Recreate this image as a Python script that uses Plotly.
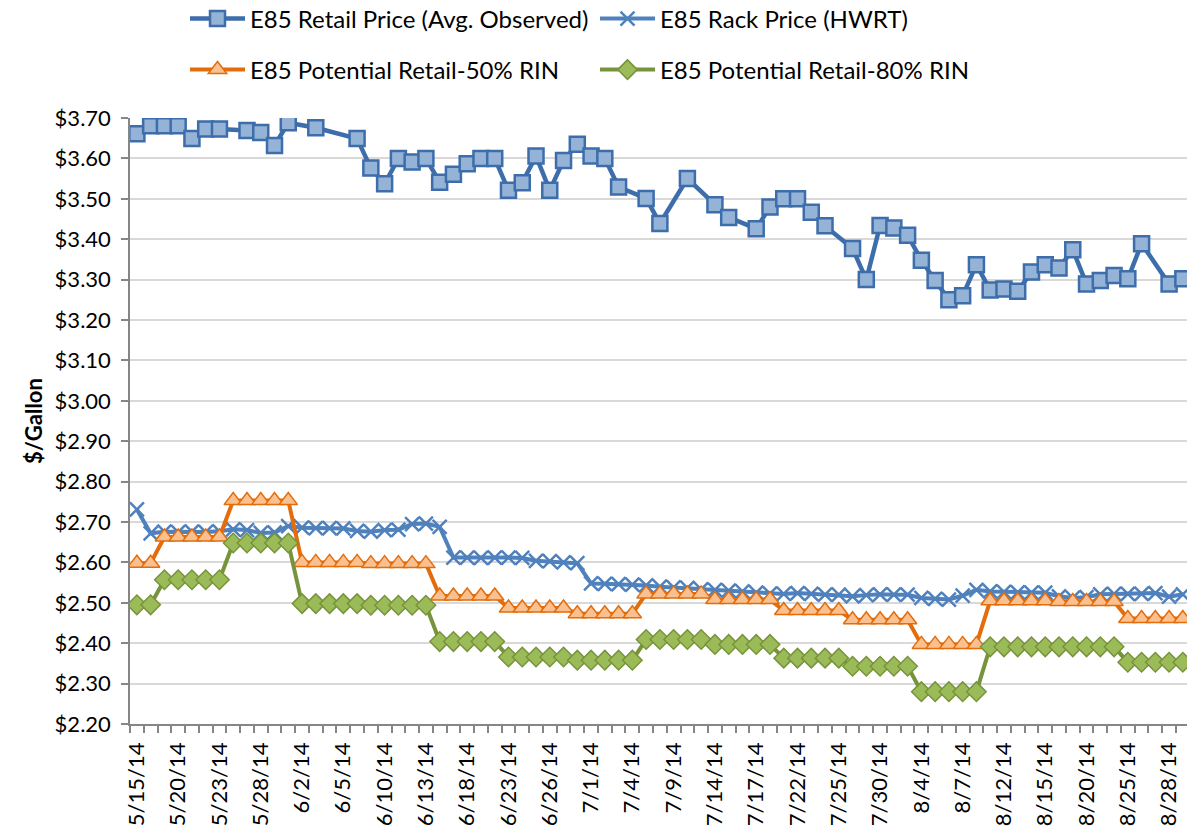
import plotly.graph_objects as go

dates = [
    "5/15/14", "5/16/14", "5/19/14", "5/20/14", "5/21/14", "5/22/14", "5/23/14",
    "5/26/14", "5/27/14", "5/28/14", "5/29/14", "5/30/14",
    "6/2/14", "6/3/14", "6/4/14", "6/5/14", "6/6/14",
    "6/9/14", "6/10/14", "6/11/14", "6/12/14", "6/13/14",
    "6/16/14", "6/17/14", "6/18/14", "6/19/14", "6/20/14",
    "6/23/14", "6/24/14", "6/25/14", "6/26/14", "6/27/14",
    "6/30/14", "7/1/14", "7/2/14", "7/3/14", "7/4/14",
    "7/7/14", "7/8/14", "7/9/14", "7/10/14", "7/11/14",
    "7/14/14", "7/15/14", "7/16/14", "7/17/14", "7/18/14",
    "7/21/14", "7/22/14", "7/23/14", "7/24/14", "7/25/14",
    "7/28/14", "7/29/14", "7/30/14", "7/31/14", "8/1/14",
    "8/4/14", "8/5/14", "8/6/14", "8/7/14", "8/8/14",
    "8/11/14", "8/12/14", "8/13/14", "8/14/14", "8/15/14",
    "8/18/14", "8/19/14", "8/20/14", "8/21/14", "8/22/14",
    "8/25/14", "8/26/14", "8/27/14", "8/28/14", "8/29/14",
]

retail = [
    3.661, 3.681, 3.681, 3.681, 3.649, 3.673, 3.673,
    None, 3.669, 3.664, 3.632, 3.688,
    None, 3.676, None, None, 3.649,
    3.576, 3.537, 3.600, 3.591, 3.600,
    3.541, 3.561, 3.587, 3.600, 3.600,
    3.521, 3.540, 3.606, 3.521, 3.595,
    3.635, 3.606, 3.600, 3.529, None,
    3.501, 3.439, None, 3.550, None,
    3.485, 3.454, None, 3.426, 3.480,
    3.500, 3.500, 3.467, 3.433, None,
    3.377, 3.300, 3.434, 3.428, 3.410,
    3.348, 3.298, 3.250, 3.260, 3.337,
    3.274, 3.277, 3.271, 3.319, 3.337,
    3.329, 3.374, 3.289, 3.298, 3.310,
    3.302, 3.389, None, 3.289, 3.302,
]

rack = [
    2.731, 2.672, 2.676, 2.675, 2.676, 2.675, 2.677,
    2.682, 2.680, 2.673, 2.674, 2.690,
    2.686, 2.685, 2.685, 2.684, 2.678,
    2.676, 2.680, 2.681, 2.695, 2.696,
    2.688, 2.612, 2.612, 2.611, 2.612,
    2.612, 2.611, 2.604, 2.603, 2.600,
    2.598, 2.548, 2.547, 2.546, 2.545,
    2.543, 2.540, 2.538, 2.537, 2.533,
    2.532, 2.530, 2.528, 2.525, 2.523,
    2.522, 2.524, 2.522, 2.520, 2.520,
    2.516, 2.519, 2.521, 2.520, 2.520,
    2.512, 2.510, 2.508, 2.518, 2.532,
    2.528, 2.527, 2.526, 2.525, 2.525,
    2.516, 2.512, 2.514, 2.521, 2.522,
    2.522, 2.522, 2.524, 2.515, 2.521,
]

retail_50 = [
    2.598, 2.598, 2.663, 2.663, 2.663, 2.663, 2.663,
    2.753, 2.753, 2.753, 2.753, 2.753,
    2.600, 2.600, 2.600, 2.600, 2.600,
    2.597, 2.597, 2.597, 2.597, 2.597,
    2.517, 2.517, 2.517, 2.517, 2.517,
    2.487, 2.487, 2.487, 2.487, 2.487,
    2.473, 2.473, 2.473, 2.473, 2.473,
    2.522, 2.522, 2.522, 2.522, 2.522,
    2.508, 2.508, 2.508, 2.508, 2.508,
    2.481, 2.481, 2.481, 2.481, 2.481,
    2.458, 2.458, 2.458, 2.458, 2.458,
    2.397, 2.397, 2.397, 2.397, 2.397,
    2.505, 2.505, 2.505, 2.505, 2.505,
    2.503, 2.503, 2.503, 2.503, 2.503,
    2.461, 2.461, 2.461, 2.461, 2.461,
]

retail_80 = [
    2.495, 2.495, 2.557, 2.557, 2.557, 2.557, 2.557,
    2.648, 2.648, 2.648, 2.648, 2.648,
    2.498, 2.498, 2.498, 2.498, 2.498,
    2.494, 2.494, 2.494, 2.494, 2.494,
    2.404, 2.404, 2.404, 2.404, 2.404,
    2.366, 2.366, 2.366, 2.366, 2.366,
    2.358, 2.358, 2.358, 2.358, 2.358,
    2.409, 2.409, 2.409, 2.409, 2.409,
    2.397, 2.397, 2.397, 2.397, 2.397,
    2.363, 2.363, 2.363, 2.363, 2.363,
    2.343, 2.343, 2.343, 2.343, 2.343,
    2.280, 2.280, 2.280, 2.280, 2.280,
    2.391, 2.391, 2.391, 2.391, 2.391,
    2.391, 2.391, 2.391, 2.391, 2.391,
    2.353, 2.353, 2.353, 2.353, 2.353,
]

series_names = [
    "E85 Retail Price (Avg. Observed)",
    "E85 Rack Price (HWRT)",
    "E85 Potential Retail-50% RIN",
    "E85 Potential Retail-80% RIN",
]

FONT = "Lato"
x_idx = list(range(len(dates)))
label_idx = list(range(0, len(dates), 3))

fig = go.Figure()

fig.add_trace(go.Scatter(
    x=x_idx, y=retail, name=series_names[0], mode="lines+markers",
    connectgaps=True, legend="legend",
    line=dict(color="#3D6EAB", width=4.5),
    marker=dict(symbol="square", size=15, color="#95B3D7",
                line=dict(color="#3D6EAB", width=2.5)),
))
fig.add_trace(go.Scatter(
    x=x_idx, y=rack, name=series_names[1], mode="lines+markers",
    legend="legend",
    line=dict(color="#4F81BD", width=4),
    marker=dict(symbol="x-thin", size=14, color="#4F81BD",
                line=dict(color="#4F81BD", width=2.5)),
))
fig.add_trace(go.Scatter(
    x=x_idx, y=retail_50, name=series_names[2], mode="lines+markers",
    legend="legend2",
    line=dict(color="#E46C0A", width=4),
    marker=dict(symbol="triangle-up", size=16, color="#FAC090",
                line=dict(color="#E46C0A", width=1.5)),
))
fig.add_trace(go.Scatter(
    x=x_idx, y=retail_80, name=series_names[3], mode="lines+markers",
    legend="legend2",
    line=dict(color="#77933C", width=4),
    marker=dict(symbol="diamond", size=15, color="#9BBB59",
                line=dict(color="#77933C", width=1.5)),
))

legend_common = dict(
    orientation="h", xref="container", yref="container",
    xanchor="left", yanchor="middle", itemwidth=55,
    font=dict(family=FONT, size=24, color="#000000"),
    bgcolor="rgba(0,0,0,0)", entrywidth=340, entrywidthmode="pixels",
    itemclick=False, itemdoubleclick=False,
)

fig.update_layout(
    width=1187, height=834,
    paper_bgcolor="white", plot_bgcolor="white",
    margin=dict(l=130, r=0, t=118, b=110, autoexpand=False),
    font=dict(family=FONT, size=22, color="#000000"),
    legend=dict(x=185 / 1187, y=1 - 19 / 834, **legend_common),
    legend2=dict(x=185 / 1187, y=1 - 70 / 834, **legend_common),
    xaxis=dict(
        range=[-0.5, 76.3], automargin=False,
        tickmode="array", tickvals=label_idx,
        ticktext=[dates[i] for i in label_idx],
        tickangle=-90, ticks="", showgrid=False, zeroline=False,
        showline=True, linecolor="#868686", linewidth=1.5,
        ticklabelstandoff=8,
        tickfont=dict(family=FONT, size=22, color="#000000"),
        minor=dict(tickmode="linear", tick0=-0.5, dtick=1, ticks="outside",
                   ticklen=7, tickwidth=1.5, tickcolor="#868686", showgrid=False),
    ),
    yaxis=dict(
        range=[2.2, 3.7], dtick=0.1, tick0=2.2, tickformat="$.2f",
        automargin=False,
        showgrid=True, gridcolor="#D9D9D9", gridwidth=1.5,
        zeroline=False, showline=True, linecolor="#868686", linewidth=1.5,
        ticks="outside", ticklen=7, tickwidth=1.5, tickcolor="#868686",
        ticklabelstandoff=6,
        tickfont=dict(family=FONT, size=22, color="#000000"),
        title=dict(text="<b>$/Gallon</b>", standoff=6,
                   font=dict(family=FONT, size=22, color="#000000")),
    ),
)

fig.write_html(
    "out.html",
    config={"displayModeBar": False},
    post_script="document.body.style.margin='0';document.body.style.overflow='hidden';",
)
